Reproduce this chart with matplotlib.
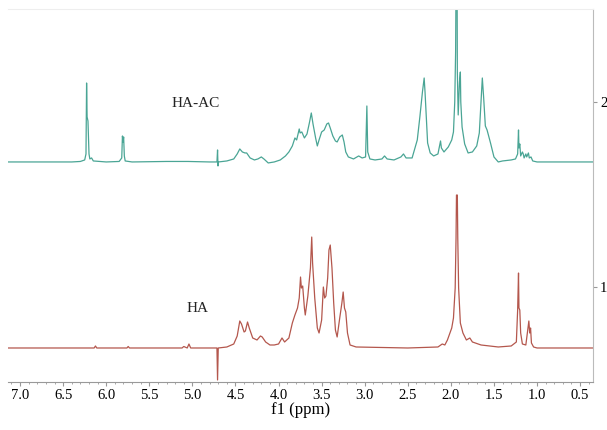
import numpy as np
import matplotlib.pyplot as plt
from matplotlib.ticker import MultipleLocator

# intensities in arbitrary units, 185 units = 1 on the offset axis
UNIT_INTENSITY = 185.0

# HA-AC spectrum (ppm, intensity)
ppm_haac = [7.14, 6.40, 6.30, 6.25, 6.235, 6.228, 6.222, 6.212, 6.20, 6.19, 6.17, 6.15,
            6.00, 5.85, 5.82, 5.812, 5.805, 5.798, 5.79, 5.78, 5.70, 5.30, 5.05, 4.80,
            4.715, 4.708, 4.703, 4.698, 4.60, 4.52, 4.48, 4.45, 4.42, 4.39, 4.37, 4.33,
            4.28, 4.24, 4.20, 4.17, 4.12, 4.05, 3.98, 3.92, 3.88, 3.84, 3.81, 3.79,
            3.76, 3.75, 3.73, 3.70, 3.67, 3.64, 3.62, 3.60, 3.57, 3.55, 3.53, 3.50,
            3.47, 3.44, 3.42, 3.40, 3.37, 3.34, 3.32, 3.29, 3.26, 3.24, 3.22, 3.19,
            3.13, 3.07, 3.03, 2.99, 2.975, 2.965, 2.94, 2.88, 2.80, 2.77, 2.74, 2.66,
            2.58, 2.55, 2.52, 2.45, 2.39, 2.36, 2.33, 2.31, 2.30, 2.27, 2.24, 2.20,
            2.15, 2.12, 2.11, 2.08, 2.03, 1.99, 1.97, 1.955, 1.945, 1.935, 1.93, 1.925,
            1.915, 1.90, 1.89, 1.885, 1.87, 1.84, 1.80, 1.75, 1.70, 1.67, 1.65, 1.635,
            1.62, 1.60, 1.58, 1.54, 1.50, 1.45, 1.40, 1.30, 1.25, 1.225, 1.215, 1.21,
            1.20, 1.19, 1.17, 1.16, 1.15, 1.13, 1.12, 1.10, 1.09, 1.07, 1.05, 1.00, 0.35]
int_haac = [0, 0, 0.5, 2, 8, 79, 45, 41, 8, 3, 4, 1,
            0, 0.5, 4, 26, 20, 25, 6, 1, 0, 0.5, 0.5, 0,
            0, 12, -4, 0, 1, 3, 8, 13, 10, 9, 9, 4,
            2, 3, 5, 3, -1, 0, 2, 6, 10, 16, 24, 22,
            33, 29, 30, 24, 28, 40, 49, 38, 24, 16, 22, 30,
            32, 38, 39, 34, 26, 21, 20, 25, 27, 20, 10, 5,
            3, 6, 4, 5, 56, 10, 3, 2, 3, 6, 3, 2,
            5, 8, 4, 4, 22, 45, 70, 84, 70, 19, 9, 6,
            8, 21, 14, 10, 15, 22, 30, 60, 110, 250, 250, 90,
            47, 80, 90, 60, 35, 18, 9, 10, 16, 29, 60, 84,
            65, 36, 32, 19, 5, 0, 1, 2, 3, 8, 32, 14,
            18, 6, 10, 8, 4, 8, 5, 9, 4, 5, 1, 0, 0]

# HA spectrum (ppm, intensity)
ppm_ha = [7.14, 6.14, 6.125, 6.11, 5.76, 5.745, 5.73, 5.12, 5.10, 5.06, 5.04, 5.02,
          4.80, 4.715, 4.708, 4.70, 4.60, 4.52, 4.48, 4.45, 4.43, 4.40, 4.385, 4.36,
          4.34, 4.30, 4.25, 4.21, 4.19, 4.15, 4.10, 4.05, 4.00, 3.96, 3.93, 3.88,
          3.84, 3.81, 3.78, 3.76, 3.745, 3.735, 3.72, 3.70, 3.69, 3.66, 3.63, 3.615,
          3.605, 3.58, 3.55, 3.53, 3.50, 3.48, 3.465, 3.45, 3.43, 3.415, 3.40, 3.38,
          3.36, 3.34, 3.32, 3.29, 3.265, 3.25, 3.235, 3.22, 3.20, 3.17, 3.10, 2.50,
          2.15, 2.10, 2.07, 2.04, 1.99, 1.97, 1.95, 1.94, 1.935, 1.925, 1.92, 1.91,
          1.89, 1.86, 1.82, 1.78, 1.75, 1.65, 1.45, 1.30, 1.24, 1.225, 1.215, 1.21,
          1.20, 1.19, 1.17, 1.13, 1.105, 1.095, 1.085, 1.075, 1.065, 1.04, 1.00, 0.35]
int_ha = [0, 0, 2, 0, 0, 1.5, 0, 0, 1.5, 0, 4, 0,
          0, 0, -32, 0, 1, 4, 12, 27, 24, 16, 17, 26,
          20, 10, 8, 12, 11, 6, 3, 3, 4, 10, 6, 10,
          25, 33, 40, 50, 71, 60, 62, 40, 33, 52, 80, 111,
          85, 50, 20, 15, 28, 61, 50, 52, 70, 98, 103, 80,
          45, 18, 11, 30, 45, 56, 40, 36, 15, 3, 1, 0,
          1, 4, 3, 8, 20, 30, 60, 110, 153, 153, 110, 60,
          25, 15, 8, 10, 6, 3, 1, 2, 6, 38, 75, 40,
          38, 15, 4, 3, 20, 27, 15, 20, 5, 1, 0, 0]

labels = ['HA-AC', 'HA']
offsets = [1.676, 0.670]
colors = ['#4aa595', '#b4574d']

plt.rcParams['font.family'] = ['Liberation Serif', 'DejaVu Serif']

fig = plt.figure(figsize=(6.07, 4.30), dpi=100)
ax = fig.add_axes([0.0132, 0.1116, 0.9638, 0.8674])

spectra = [(ppm_haac, int_haac), (ppm_ha, int_ha)]
for i, (x, y) in enumerate(spectra):
    ax.plot(x, offsets[i] + np.array(y) / UNIT_INTENSITY, color=colors[i], lw=0.9)

ax.text(4.96, 1.99, labels[0], fontsize=11, ha='center', va='center', color='#222222')
ax.text(4.94, 0.886, labels[1], fontsize=11, ha='center', va='center', color='#222222')

ax.set_xlim(7.14, 0.35)
ax.set_ylim(0.486, 2.503)
ax.xaxis.set_minor_locator(MultipleLocator(0.1))
ax.set_xticks(np.arange(0.5, 7.01, 0.5))
ax.set_xticklabels(['%.1f' % v for v in np.arange(0.5, 7.01, 0.5)])

ax.yaxis.tick_right()
ax.set_yticks([1, 2])
ax.set_yticklabels(['1', '2'])

ax.spines['left'].set_visible(False)
ax.spines['top'].set_color('#eeeeee')
ax.spines['right'].set_color('#bbbbbb')
ax.spines['bottom'].set_color('#999999')
ax.tick_params(axis='x', which='major', length=3, color='#999999', labelsize=10.5, pad=2)
ax.tick_params(axis='x', which='minor', length=1.5, color='#999999')
ax.tick_params(axis='y', length=3, color='#999999', labelsize=10.5, pad=2)
ax.set_xlabel('f1 (ppm)', fontsize=12, labelpad=0)

fig.savefig('out.png', dpi=100)
